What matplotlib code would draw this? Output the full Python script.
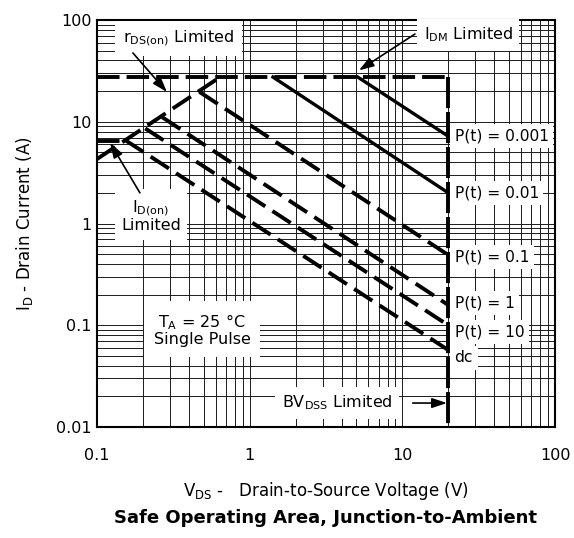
import numpy as np
import matplotlib
matplotlib.use('Agg')
import matplotlib.pyplot as plt
from matplotlib.ticker import LogLocator, NullFormatter

plt.rcParams['font.family'] = ['DejaVu Sans']

# limits
bv_dss = 20.0          # BVDSS limited voltage (V)
i_dm = 27.5            # IDM limited current (A)
i_don = 6.5            # ID(on) limited current (A)
idon_v = [0.1, 0.153]
rds_v = [0.1, 0.64]
rds_i = [4.3, 27.5]

# pulse lines: start point on the limit lines, end current at BVDSS
pulse_labels = ['P(t) = 0.001', 'P(t) = 0.01', 'P(t) = 0.1', 'P(t) = 1', 'P(t) = 10', 'dc']
pulse_start_v = [5.1, 1.42, 0.47, 0.267, 0.207, 0.153]
pulse_start_i = [27.5, 27.5, 19.6, 11.1, 8.6, 6.6]
pulse_end_i = [7.2, 2.0, 0.49, 0.158, 0.10, 0.057]
pulse_solid = [True, True, False, False, False, False]
label_i = [7.2, 2.0, 0.47, 0.166, 0.086, 0.048]

fig = plt.figure(figsize=(5.74, 5.38), dpi=100)
ax = fig.add_axes([97/574, 1 - 427/538, 458/574, 407/538])
ax.set_xscale('log')
ax.set_yscale('log')
ax.set_xlim(0.1, 100)
ax.set_ylim(0.01, 100)

ax.set_xticks([0.1, 1, 10, 100])
ax.set_xticklabels(['0.1', '1', '10', '100'])
ax.set_yticks([0.01, 0.1, 1, 10, 100])
ax.set_yticklabels(['0.01', '0.1', '1', '10', '100'])
for axis in (ax.xaxis, ax.yaxis):
    axis.set_minor_locator(LogLocator(base=10, subs=np.arange(2, 10), numticks=20))
    axis.set_minor_formatter(NullFormatter())
ax.grid(True, which='both', color='#1a1a1a', lw=0.7)
ax.set_axisbelow(True)
ax.tick_params(which='both', length=0, labelsize=11.5)
ax.tick_params(axis='x', pad=15)
ax.tick_params(axis='y', pad=4)
for s in ax.spines.values():
    s.set_linewidth(1.5)

dash_kw = dict(color='black', lw=2.8, solid_capstyle='butt', dash_capstyle='butt')

# IDM, ID(on), rDS(on) and BVDSS limits
ax.plot([0.1, bv_dss], [i_dm, i_dm], dashes=(5.8, 1.8), **dash_kw)
ax.plot(idon_v, [i_don, i_don], dashes=(5.8, 1.8), **dash_kw)
ax.plot(rds_v, rds_i, dashes=(5.6, 2.2), **dash_kw)
ax.plot([bv_dss, bv_dss], [i_dm, 0.01], dashes=(8, 1.0), **dash_kw)

for v0, i0, i1, solid in zip(pulse_start_v, pulse_start_i, pulse_end_i, pulse_solid):
    if solid:
        ax.plot([v0, bv_dss], [i0, i1], color='black', lw=2.4)
    else:
        ax.plot([v0, bv_dss], [i0, i1], dashes=(5.6, 2.2), **dash_kw)

box = dict(boxstyle='square,pad=0.3', fc='white', ec='none')
for lab, yi in zip(pulse_labels, label_i):
    ax.annotate(lab, xy=(bv_dss, yi), xytext=(4.5, 0), textcoords='offset points',
                ha='left', va='center', fontsize=11.2, bbox=box, zorder=5)

arrow = dict(arrowstyle='-|>,head_length=0.6,head_width=0.2', color='black',
             lw=1.2, mutation_scale=15, shrinkA=0, shrinkB=0)

ax.text(0.34, 66, r'r$_{\mathrm{DS(on)}}$ Limited', ha='center', va='center', fontsize=11.5,
        bbox=dict(boxstyle='square,pad=0.5', fc='white', ec='none'), zorder=5)
ax.annotate('', xy=(0.287, 19.6), xytext=(0.172, 47.4), arrowprops=arrow, zorder=6)

ax.text(27, 71, r'I$_{\mathrm{DM}}$ Limited', ha='center', va='center', fontsize=11.5,
        bbox=dict(boxstyle='square,pad=0.4', fc='white', ec='none'), zorder=5)
ax.annotate('', xy=(5.2, 32), xytext=(12.1, 72.8), arrowprops=arrow, zorder=6)

ax.text(0.226, 1.19, 'I$_{\\mathrm{D(on)}}$\nLimited', ha='center', va='center', fontsize=11.5,
        linespacing=1.0, bbox=dict(boxstyle='square,pad=0.4', fc='white', ec='none'), zorder=5)
ax.annotate('', xy=(0.122, 6.2), xytext=(0.191, 2.0), arrowprops=arrow, zorder=6)

ax.text(0.487, 0.09, 'T$_{\\mathrm{A}}$ = 25 °C\nSingle Pulse', ha='center', va='center',
        fontsize=11.5, linespacing=1.0,
        bbox=dict(boxstyle='square,pad=0.6', fc='white', ec='none'), zorder=5)

ax.text(3.73, 0.0172, r'BV$_{\mathrm{DSS}}$ Limited', ha='center', va='center', fontsize=11.5,
        bbox=dict(boxstyle='square,pad=0.4', fc='white', ec='none'), zorder=5)
ax.annotate('', xy=(19.6, 0.0172), xytext=(11.7, 0.0172), arrowprops=arrow, zorder=6)

ax.set_xlabel(r'V$_{\mathrm{DS}}$ -   Drain-to-Source Voltage (V)', fontsize=12, labelpad=12)
ax.set_ylabel(r'I$_{\mathrm{D}}$ - Drain Current (A)', fontsize=12, labelpad=15)
fig.text((97 + 555) / 2 / 574, 1 - 518/538, 'Safe Operating Area, Junction-to-Ambient',
         ha='center', va='center', fontsize=13, weight='bold')

fig.savefig('out.png', dpi=100)
